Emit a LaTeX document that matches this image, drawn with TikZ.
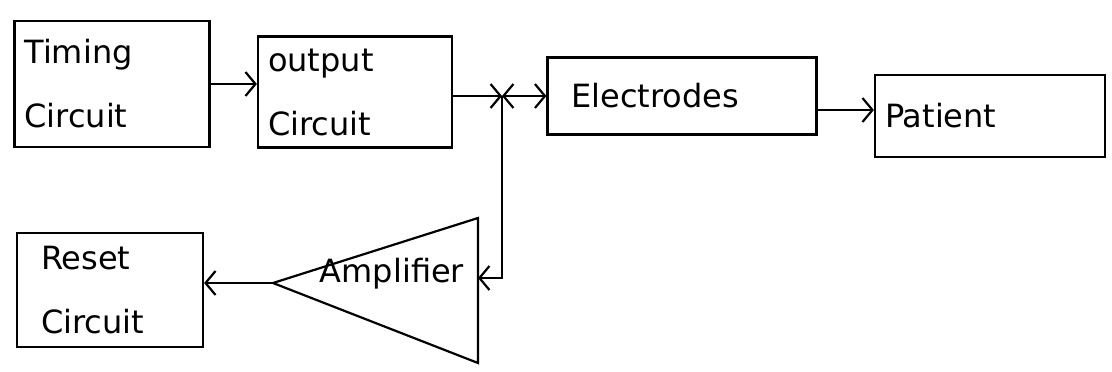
\documentclass[tikz,border=0pt]{standalone}
\usepackage{fontspec}
\setmainfont{DejaVu Sans}
\usetikzlibrary{arrows.meta}
\begin{document}
\begin{tikzpicture}[x=1pt, y=-1pt,
    blk/.style={draw, line width=2.2pt, inner sep=10pt, align=left, font=\fontsize{32}{64}\selectfont},
    lbl/.style={font=\fontsize{32}{64}\selectfont, inner sep=0pt},
    conn/.style={line width=2.2pt, -{Straight Barb[length=10pt,width=24pt]}}]
  \useasboundingbox (0,0) rectangle (1112,372);

  % Blocks
  \node[blk, text width=175pt, minimum height=126pt] (timing) at (112,84) {Timing\\Circuit};
  \node[blk, text width=174pt, minimum height=111pt] (output) at (355,92) {output\\Circuit};
  \node[blk, text width=249pt, minimum height=77pt] (elec) at (682,96) {\hspace{14pt}Electrodes};
  \node[blk, text width=210pt, minimum height=82pt] (pat) at (990,116) {Patient};
  \node[blk, text width=166pt, minimum height=114pt] (reset) at (110,290) {\hspace{14pt}Reset\\\hspace{14pt}Circuit};

  % Amplifier
  \coordinate (apex) at (273,283);
  \coordinate (ampt) at (478,218);
  \coordinate (ampb) at (478,363);
  \coordinate (ampin) at (478,278);
  \draw[line width=2.2pt] (apex) -- (ampt) -- (ampb) -- cycle;
  \node[lbl] (amp) at (392,274) {Amplifier};

  % Connectors
  \coordinate (junc) at (502,96);
  \draw[conn] (timing.east) -- (timing.east -| output.west);
  \draw[conn] (output.east |- junc) -- (junc);
  \draw[line width=2.2pt, {Straight Barb[length=10pt,width=24pt]}-{Straight Barb[length=10pt,width=24pt]}] (junc) -- (junc -| elec.west);
  \draw[conn] ([yshift=-14pt]elec.east) -- ([yshift=-14pt]elec.east -| pat.west);
  \draw[conn] (junc) |- (ampin);
  \draw[conn] (apex) -- (apex -| reset.east);
\end{tikzpicture}
\end{document}
